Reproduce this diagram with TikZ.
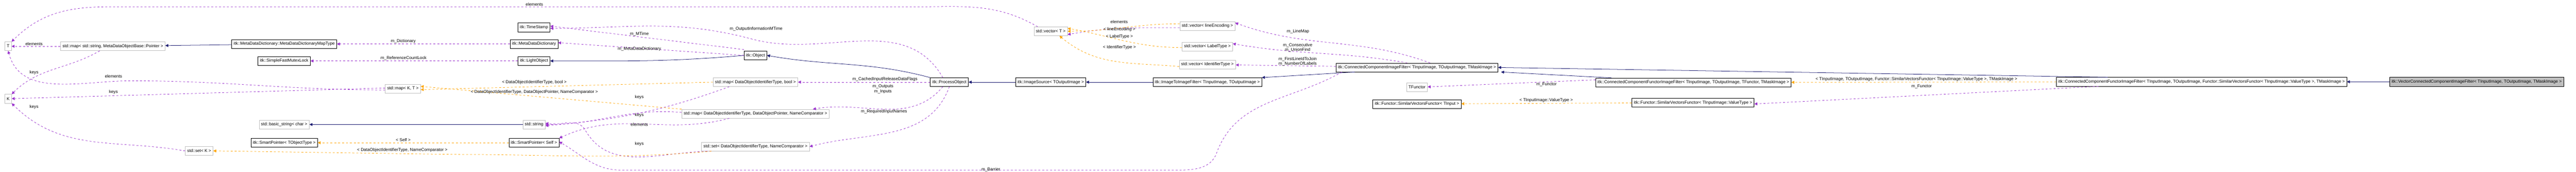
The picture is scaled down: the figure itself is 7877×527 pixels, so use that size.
\documentclass[tikz,border=0pt]{standalone}
\usepackage{fontspec}
\setmainfont{Liberation Sans}
\usetikzlibrary{arrows.meta}
\definecolor{usecol}{HTML}{9A32CD}
\definecolor{tplcol}{HTML}{FFA500}
\definecolor{inhcol}{HTML}{191970}
\definecolor{extcol}{HTML}{BFBFBF}
\tikzset{
  cls/.style={draw=black,fill=white,line width=1pt,minimum height=27pt,inner xsep=6pt,font=\fontsize{13}{15}\selectfont},
  ext/.style={cls,draw=extcol},
  main/.style={cls,fill=extcol},
  lbl/.style={font=\fontsize{13}{15}\selectfont,inner sep=1pt,align=center},
  tip/.style={-{Triangle[length=9pt,width=9pt]}},
  inh/.style={tip,draw=inhcol,line width=1.2pt},
  use/.style={tip,draw=usecol,line width=1.2pt,dash pattern=on 6pt off 6pt},
  tpl/.style={tip,draw=tplcol,line width=1.2pt,dash pattern=on 6pt off 6pt},
}
\begin{document}
\begin{tikzpicture}[x=1pt,y=-1pt]
\useasboundingbox (0,0) rectangle (7877,527);
    %Nodos
    \node[ext] (T) at (25,142) {T};
    \node[ext] (K) at (25,303) {K};
    \node[ext] (smapS) at (345,142) {std::map< std::string, MetaDataObjectBase::Pointer >};
    \node[cls] (mddmap) at (869,135) {itk::MetaDataDictionary::MetaDataDictionaryMapType};
    \node[cls] (sfml) at (869,187) {itk::SimpleFastMutexLock};
    \node[ext] (sbasic) at (869,382) {std::basic\_string< char >};
    \node[cls] (spT) at (869,438) {itk::SmartPointer< TObjectType >};
    \node[ext] (setK) at (609,463) {std::set< K >};
    \node[cls] (tstamp) at (1633,84) {itk::TimeStamp};
    \node[cls] (mdd) at (1633,135) {itk::MetaDataDictionary};
    \node[cls] (lobj) at (1633,187) {itk::LightObject};
    \node[ext] (mapKT) at (1232,272) {std::map< K, T >};
    \node[ext] (sstr) at (1633,382) {std::string};
    \node[cls] (spSelf) at (1633,438) {itk::SmartPointer< Self >};
    \node[cls] (obj) at (2310,170) {itk::Object};
    \node[ext] (mapB) at (2310,252) {std::map< DataObjectIdentifierType, bool >};
    \node[ext] (mapP) at (2310,349) {std::map< DataObjectIdentifierType, DataObjectPointer, NameComparator >};
    \node[ext] (setN) at (2310,450) {std::set< DataObjectIdentifierType, NameComparator >};
    \node[ext] (vecT) at (3213,96) {std::vector< T >};
    \node[cls] (pobj) at (2903,252) {itk::ProcessObject};
    \node[cls] (isrc) at (3213,252) {itk::ImageSource< TOutputImage >};
    \node[ext] (vecLE) at (3692,80) {std::vector< lineEncoding >};
    \node[ext] (vecLT) at (3692,143) {std::vector< LabelType >};
    \node[ext] (vecID) at (3692,198) {std::vector< IdentifierType >};
    \node[cls] (i2i) at (3692,252) {itk::ImageToImageFilter< TInputImage, TOutputImage >};
    \node[cls] (ccif) at (4333,207) {itk::ConnectedComponentImageFilter< TInputImage, TOutputImage, TMaskImage >};
    \node[ext] (tfun) at (4333,268) {TFunctor};
    \node[cls] (svfT) at (4333,319) {itk::Functor::SimilarVectorsFunctor< TInput >};
    \node[cls] (ccfifT) at (5178,253) {itk::ConnectedComponentFunctorImageFilter< TInputImage, TOutputImage, TFunctor, TMaskImage >};
    \node[cls] (svfV) at (5177,315) {itk::Functor::SimilarVectorsFunctor< TInputImage::ValueType >};
    \node[cls] (ccfifS) at (6732,251) {itk::ConnectedComponentFunctorImageFilter< TInputImage, TOutputImage, Functor::SimilarVectorsFunctor< TInputImage::ValueType >, TMaskImage >};
    \node[main] (vcc) at (7573,251) {itk::VectorConnectedComponentImageFilter< TInputImage, TOutputImage, TMaskImage >};

    %Herencia
    \draw[inh] (mddmap) -- (smapS);
    \draw[inh] (sstr) -- (sbasic);
    \draw[inh] (obj.west) to[out=185,in=0] (lobj.east);
    \draw[inh] (pobj.north west) to[out=165,in=-10] (obj.east);
    \draw[inh] (isrc) -- (pobj);
    \draw[inh] (i2i) -- (isrc);
    \draw[inh] ([xshift=-190pt]ccif.south) -- (i2i.north east);
    \draw[inh] ([xshift=-250pt]ccfifT.north) -- ([xshift=257pt]ccif.south);
    \draw[inh] ([xshift=-287pt]ccfifS.north) -- (ccif.east);
    \draw[inh] (vcc) -- (ccfifS);

    %Miembros
    \draw[use] ([xshift=-40pt]vecT.north) to[out=150,in=0] (2800,21) -- (330,21) to[out=180,in=45] (T.north east);
    \draw[use] (smapS) -- (T);
    \draw[use] ([xshift=-40pt]smapS.south) to[out=-150,in=45] (K.north east);
    \draw[use] ([yshift=-4pt]mapKT.west) to[out=180,in=0] (400,248) to[out=180,in=-75] (T.south);
    \draw[use] ([yshift=2pt]mapKT.west) -- (K);
    \draw[use] (setK.west) to[out=170,in=-45] (K.south east);
    \draw[use] (mdd) -- (mddmap);
    \draw[use] (lobj) -- (sfml);
    \draw[use] ([yshift=4pt]obj.north west) -- ([yshift=4pt]tstamp.east);
    \draw[use] (obj.west) -- ([yshift=4pt]mdd.east);
    \draw[use] ([xshift=-20pt]pobj.north) to[out=120,in=-15] (2300,120) to[out=165,in=0] ([yshift=-3pt]tstamp.east);
    \draw[use] (pobj) -- (mapB);
    \draw[use] ([xshift=-20pt]pobj.south) to[out=-130,in=10] ([xshift=-50pt]mapP.north east);
    \draw[use] (pobj.south) to[out=-110,in=15] (setN.east);
    \draw[use] ([xshift=-80pt]mapB.south) to[out=-160,in=5] ([yshift=-4pt]sstr.east);
    \draw[use] ([yshift=4pt]mapP.west) to[out=175,in=0] (sstr.east);
    \draw[use] ([xshift=-80pt]mapP.south) to[out=-165,in=25] (spSelf.north east);
    \draw[use] ([xshift=-135pt]setN.south) to[out=180,in=-60] (1790,400) to[out=120,in=-10] ([yshift=4pt]sstr.east);
    \draw[use] ([yshift=-5pt]vecLE.west) to[out=180,in=10] ([yshift=-10pt]vecT.east);
    \draw[use] ([xshift=40pt]ccif.north) to[out=160,in=-20] ([yshift=10pt]vecLE.east);
    \draw[use] ([xshift=-30pt]ccif.north) to[out=170,in=-10] ([yshift=9pt]vecLT.east);
    \draw[use] (ccif) -- (vecID);
    \draw[use] ([xshift=-230pt]ccif.south) to[out=-150,in=70] (3720,470) to[out=-110,in=0] (3600,522) -- (1900,522) to[out=180,in=-30] ([yshift=3pt]spSelf.east);
    \draw[use] ([yshift=8pt]ccfifT.west) -- (tfun);
    \draw[use] ([xshift=-315pt]ccfifS.south) -- ([yshift=-4pt]svfV.east);

    %Plantillas
    \draw[tpl] ([yshift=7pt]vecLE.west) to[out=180,in=0] (vecT.east);
    \draw[tpl] ([yshift=-3pt]vecLT.west) to[out=180,in=-10] ([yshift=9pt]vecT.east);
    \draw[tpl] ([yshift=-6pt]vecID.west) to[out=175,in=-40] ([xshift=-25pt]vecT.south east);
    \draw[tpl] (mapB.west) -- ([yshift=-3pt]mapKT.east);
    \draw[tpl] (mapP.north west) -- ([yshift=7pt]mapKT.east);
    \draw[tpl] ([xshift=-135pt]setN.south) to[out=-175,in=0] (1400,474) -- (setK.east);
    \draw[tpl] (spSelf) -- (spT);
    \draw[tpl] (svfV) -- (svfT);
    \draw[tpl] (ccfifS) -- (ccfifT);

    %Etiquetas
    \node[lbl] (l1) at (1634,13) {elements};
    \node[lbl] (l2) at (104,134) {elements};
    \node[lbl] (l3) at (104,222) {keys};
    \node[lbl] (l4) at (347,234) {elements};
    \node[lbl] (l5) at (347,282) {keys};
    \node[lbl] (l6) at (104,329) {keys};
    \node[lbl] (l7) at (1233,127) {m\_Dictionary};
    \node[lbl] (l8) at (1234,178) {m\_ReferenceCountLock};
    \node[lbl] (l9) at (1955,105) {m\_MTime};
    \node[lbl] (l10) at (1955,150) {m\_MetaDataDictionary};
    \node[lbl] (l11) at (2312,89) {m\_OutputInformationMTime};
    \node[lbl] (l12) at (2706,243) {m\_CachedInputReleaseDataFlags};
    \node[lbl] (l13) at (2700,273) {m\_Outputs\\m\_Inputs};
    \node[lbl] (l14) at (2703,342) {m\_RequiredInputNames};
    \node[lbl] (l15) at (1955,299) {keys};
    \node[lbl] (l16) at (1955,354) {keys};
    \node[lbl] (l17) at (1955,382) {elements};
    \node[lbl] (l18) at (1955,441) {keys};
    \node[lbl] (l19) at (3422,67) {elements};
    \node[lbl] (l20) at (3423,90) {< lineEncoding >};
    \node[lbl] (l21) at (3423,113) {< LabelType >};
    \node[lbl] (l22) at (3423,146) {< IdentifierType >};
    \node[lbl] (l23) at (3969,97) {m\_LineMap};
    \node[lbl] (l24) at (3968,146) {m\_Consecutive\\m\_UnionFind};
    \node[lbl] (l25) at (3968,189) {m\_FirstLineIdToJoin\\m\_NumberOfLabels};
    \node[lbl] (l26) at (3030,520) {m\_Barrier};
    \node[lbl] (l27) at (4729,259) {m\_Functor};
    \node[lbl] (l28) at (5876,265) {m\_Functor};
    \node[lbl] (l29) at (1634,252) {< DataObjectIdentifierType, bool >};
    \node[lbl] (l30) at (1634,283) {< DataObjectIdentifierType, DataObjectPointer, NameComparator >};
    \node[lbl] (l31) at (1230,460) {< DataObjectIdentifierType, NameComparator >};
    \node[lbl] (l32) at (1233,430) {< Self >};
    \node[lbl] (l33) at (4728,308) {< TInputImage::ValueType >};
    \node[lbl] (l34) at (5860,243) {< TInputImage, TOutputImage, Functor::SimilarVectorsFunctor< TInputImage::ValueType >, TMaskImage >};
\end{tikzpicture}
\end{document}
